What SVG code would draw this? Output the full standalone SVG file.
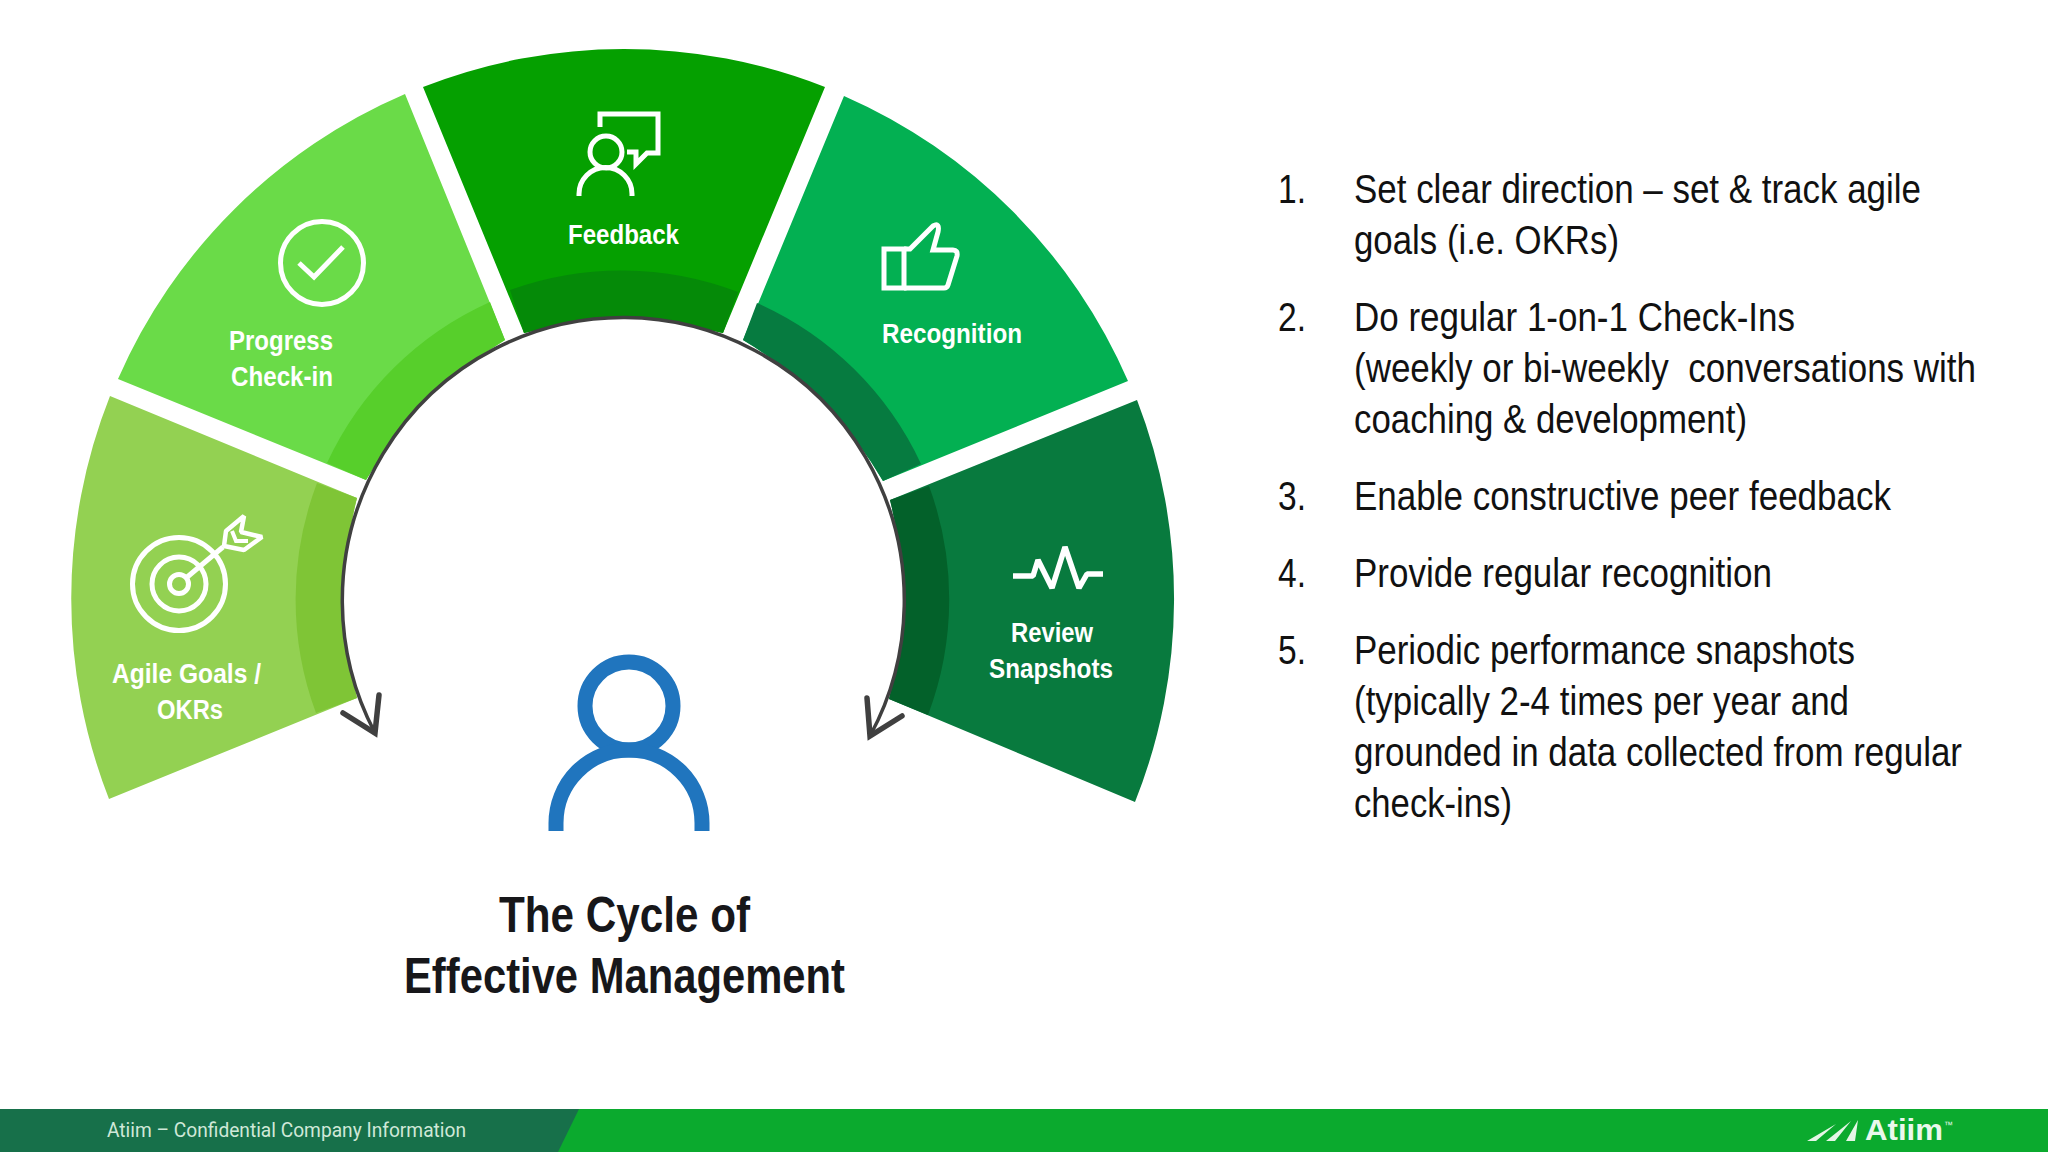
<svg xmlns="http://www.w3.org/2000/svg" width="2048" height="1152" viewBox="0 0 2048 1152">
<style>
.lbl{font-family:"Liberation Sans",Arial,sans-serif;font-weight:700;font-size:27px;fill:#fff}
.li{font-family:"Liberation Sans",Arial,sans-serif;font-size:41px;fill:#111}
.ttl{font-family:"Liberation Sans",Arial,sans-serif;font-weight:700;font-size:50px;fill:#17171a}
.ic{fill:none;stroke:#fff;stroke-width:5}
.conn{fill:none;stroke:#404040;stroke-width:3.5}
.head{fill:none;stroke:#404040;stroke-width:5.5;stroke-linejoin:miter;stroke-linecap:round}
</style>
<rect width="2048" height="1152" fill="#fff"/>

<g id="node-agile-goals">
<path d="M110 396L357 498A400 400 0 0 0 357 698L109 799A550 550 0 0 1 110 396Z" fill="#93D152"/>
<path d="M317 483L357 498A400 400 0 0 0 357 698L316 713A327 327 0 0 1 317 483Z" fill="#7FC536"/>
<g class="ic"><circle cx="179" cy="584" r="46.5"/><circle cx="179" cy="584" r="27"/><circle cx="179" cy="584" r="9.5"/>
<path d="M186 578L223 547"/><path stroke-width="4.5" stroke-linejoin="bevel" d="M224 546L226 531L244 516L241 532L262 537L244 550Z"/><path stroke-width="4" d="M232 531L236 541L248 541"/></g>
<text class="lbl" x="112" y="683" textLength="149" lengthAdjust="spacingAndGlyphs">Agile Goals /</text>
<text class="lbl" x="157" y="719" textLength="66" lengthAdjust="spacingAndGlyphs">OKRs</text>
</g>

<g id="node-progress-checkin">
<path d="M118 379A550 550 0 0 1 405 94L505 340A400 400 0 0 0 366 480Z" fill="#6ADB48"/>
<path d="M327 463A327 327 0 0 1 490 302L505 340A400 400 0 0 0 366 480Z" fill="#57CF2B"/>
<g class="ic"><circle cx="322" cy="263" r="41.5"/><path d="M299 263L314 277L343 247"/></g>
<text class="lbl" x="229" y="350" textLength="104" lengthAdjust="spacingAndGlyphs">Progress</text>
<text class="lbl" x="231" y="386" textLength="102" lengthAdjust="spacingAndGlyphs">Check-in</text>
</g>

<g id="node-feedback">
<path d="M423 87A550 550 0 0 1 825 87L723 333A400 400 0 0 0 524 333Z" fill="#05A000"/>
<path d="M510 290A327 327 0 0 1 738 292L723 333A400 400 0 0 0 524 333Z" fill="#058A08"/>
<g class="ic"><path d="M600 127V114H658V153H647L636 164V152H627"/><circle cx="606" cy="152" r="16"/><path d="M579 196V194A26.5 26.5 0 0 1 632 194V196"/></g>
<text class="lbl" x="568" y="244" textLength="111" lengthAdjust="spacingAndGlyphs">Feedback</text>
</g>

<g id="node-recognition">
<path d="M844 96A550 550 0 0 1 1128 381L883 481A400 400 0 0 0 743 340Z" fill="#03B052"/>
<path d="M757 303A327 327 0 0 1 921 464L883 481A400 400 0 0 0 743 340Z" fill="#067B40"/>
<g class="ic"><path d="M884 249H904V288H884Z"/><path d="M904 249H910L933 226Q940 222 938 232L933 250H953Q958 250 957 256L948 285Q947 288 944 288H904"/></g>
<text class="lbl" x="882" y="343" textLength="140" lengthAdjust="spacingAndGlyphs">Recognition</text>
</g>

<g id="node-review-snapshots">
<path d="M1137 400A550 550 0 0 1 1135 802L889 699A400 400 0 0 0 890 500Z" fill="#087A3E"/>
<path d="M929 486A327 327 0 0 1 928 715L889 699A400 400 0 0 0 890 500Z" fill="#03612A"/>
<path class="ic" style="stroke-width:5.5;stroke-linejoin:bevel" d="M1013 576H1033L1038 560L1052 588L1065 547L1079 588L1087 574H1103"/>
<text class="lbl" x="1011" y="642" textLength="82" lengthAdjust="spacingAndGlyphs">Review</text>
<text class="lbl" x="989" y="678" textLength="124" lengthAdjust="spacingAndGlyphs">Snapshots</text>
</g>

<g id="connectors">
<path class="conn" style="fill:#fff" d="M375 733A281 283 0 1 1 870 736"/>
<path class="head" d="M343 713L375 733L379 695"/>
<path class="head" d="M867 698L870 736L902 716"/>
</g>

<g id="node-person">
<g fill="none" stroke="#2075BE" stroke-width="15"><circle cx="629" cy="706" r="44"/><path d="M556 831V823A73 73 0 0 1 702 823V831"/></g>
</g>

<g id="title">
<text class="ttl" x="499" y="932" textLength="251" lengthAdjust="spacingAndGlyphs">The Cycle of</text>
<text class="ttl" x="404" y="993" textLength="441" lengthAdjust="spacingAndGlyphs">Effective Management</text>
</g>

<g id="list">
<text class="li" x="1278" y="203" textLength="28" lengthAdjust="spacingAndGlyphs">1.</text>
<text class="li" x="1354" y="203" textLength="567" lengthAdjust="spacingAndGlyphs">Set clear direction – set &amp; track agile</text>
<text class="li" x="1354" y="254" textLength="265" lengthAdjust="spacingAndGlyphs">goals (i.e. OKRs)</text>
<text class="li" x="1278" y="331" textLength="28" lengthAdjust="spacingAndGlyphs">2.</text>
<text class="li" x="1354" y="331" textLength="441" lengthAdjust="spacingAndGlyphs">Do regular 1-on-1 Check-Ins</text>
<text class="li" x="1354" y="382" textLength="622" lengthAdjust="spacingAndGlyphs" xml:space="preserve">(weekly or bi-weekly  conversations with</text>
<text class="li" x="1354" y="433" textLength="393" lengthAdjust="spacingAndGlyphs">coaching &amp; development)</text>
<text class="li" x="1278" y="510" textLength="28" lengthAdjust="spacingAndGlyphs">3.</text>
<text class="li" x="1354" y="510" textLength="537" lengthAdjust="spacingAndGlyphs">Enable constructive peer feedback</text>
<text class="li" x="1278" y="587" textLength="28" lengthAdjust="spacingAndGlyphs">4.</text>
<text class="li" x="1354" y="587" textLength="418" lengthAdjust="spacingAndGlyphs">Provide regular recognition</text>
<text class="li" x="1278" y="664" textLength="28" lengthAdjust="spacingAndGlyphs">5.</text>
<text class="li" x="1354" y="664" textLength="501" lengthAdjust="spacingAndGlyphs">Periodic performance snapshots</text>
<text class="li" x="1354" y="715" textLength="495" lengthAdjust="spacingAndGlyphs">(typically 2-4 times per year and</text>
<text class="li" x="1354" y="766" textLength="608" lengthAdjust="spacingAndGlyphs">grounded in data collected from regular</text>
<text class="li" x="1354" y="817" textLength="158" lengthAdjust="spacingAndGlyphs">check-ins)</text>
</g>

<g id="footer">
<rect y="1109" width="2048" height="43" fill="#0BAA2E"/>
<path d="M0 1109H579L558 1152H0Z" fill="#17704A"/>
<text x="107" y="1137" font-family="Roboto,'Liberation Sans',sans-serif" font-size="20" fill="#CFE8D8" textLength="359" lengthAdjust="spacingAndGlyphs">Atiim – Confidential Company Information</text>
<path d="M1807 1141L1836 1124L1816 1141ZM1826 1141L1851 1121L1835 1141ZM1846 1141L1858 1120L1855 1141Z" fill="#E4F6E6"/>
<text x="1865" y="1140" font-family="'Liberation Sans',sans-serif" font-weight="700" font-size="30" fill="#EAF8EC" textLength="78" lengthAdjust="spacingAndGlyphs">Atiim</text>
<text x="1944" y="1128" font-family="'Liberation Sans',sans-serif" font-size="9" fill="#EAF8EC">™</text>
</g>
</svg>
